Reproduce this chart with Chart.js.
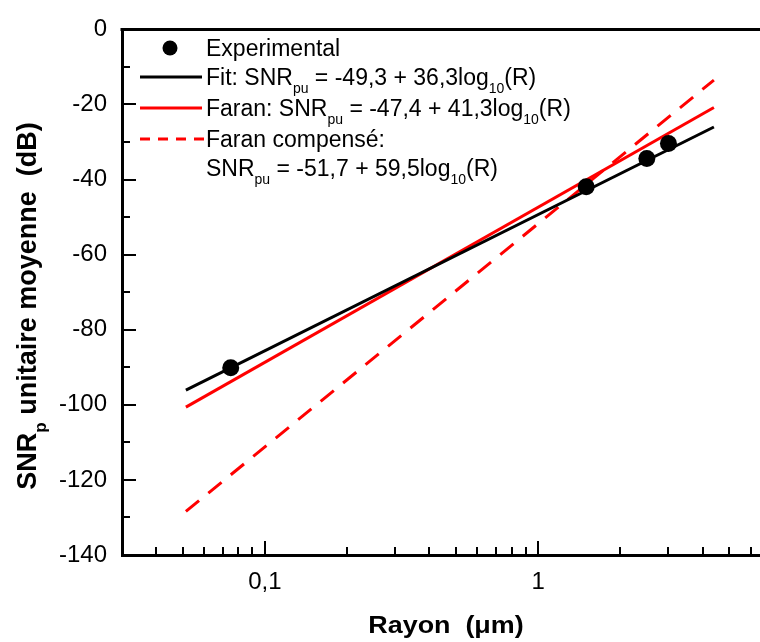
<!DOCTYPE html>
<html>
<head>
<meta charset="utf-8">
<script src="https://cdn.jsdelivr.net/npm/chart.js@4.4.1/dist/chart.umd.min.js"></script>
<style>
	body { margin: 0; background: #fff; }
	#cadre { width: 760px; height: 642px; overflow: hidden; position: relative; }
	#canvasSnr { display: block; }
</style>
</head>
<body>
<div id="cadre"><canvas id="canvasSnr" width="800" height="642"></canvas></div>
<script>

// mesures experimentales
const rayonExp = [0.075, 1.5, 2.5, 3.0];
const snrExp = [-90.1, -41.9, -34.4, -30.4];

// extremites des droites (axe log)
const rayonDroite = [0.0514, 4.4];
const snrFit = [-96.1, -26.0];
const snrFaran = [-100.6, -20.8];
const snrFaranComp = [-128.4, -13.5];

// graduations
const xTicksMaj = [0.1, 1];
const xTicksLbl = ['0,1', '1'];
const xTicksMin = [0.03, 0.04, 0.05, 0.06, 0.07, 0.08, 0.09, 0.2, 0.3, 0.4, 0.5, 0.6, 0.7, 0.8, 0.9, 2, 3, 4, 5, 6, 7];
const yTicksMaj = [-140, -120, -100, -80, -60, -40, -20, 0];
const yTicksMin = [-130, -110, -90, -70, -50, -30, -10];

const police = "'Liberation Sans', Arial, sans-serif";

function pts(xs, ys) {
	return xs.map(function (x, i) { return { x: x, y: ys[i] }; });
}

// texte avec indices (SNR_pu, log_10 ...), etire = echelle horizontale
function texteRiche(ctx, parts, x, y, taille, gras, centre, etire) {
	var f = function (s) { return (gras ? 'bold ' : '') + s + 'px ' + police; };
	var larg = 0;
	etire = etire || 1;
	parts.forEach(function (p) {
		ctx.font = f(p[1] ? Math.round(taille * 0.62) : taille);
		larg += ctx.measureText(p[0]).width;
	});
	ctx.save();
	ctx.translate(x, y);
	ctx.scale(etire, 1);
	var cx = centre ? -larg / 2 : 0;
	parts.forEach(function (p) {
		ctx.font = f(p[1] ? Math.round(taille * 0.62) : taille);
		ctx.fillText(p[0], cx, p[1] ? taille * 0.36 : 0);
		cx += ctx.measureText(p[0]).width;
	});
	ctx.restore();
}

const axes_cadre = {
	id: 'axes_cadre',
	afterDraw(chart) {
		const { ctx, chartArea: { left, top, right, bottom }, scales: { x, y } } = chart;
		ctx.save();
		ctx.strokeStyle = '#000';
		ctx.lineWidth = 3;
		ctx.beginPath();
		ctx.moveTo(left - 1.5, top);
		ctx.lineTo(right, top);
		ctx.lineTo(right, bottom);
		ctx.stroke();

		ctx.lineWidth = 2;
		ctx.beginPath();
		xTicksMaj.forEach(function (v) {
			var px = Math.round(x.getPixelForValue(v));
			ctx.moveTo(px, bottom); ctx.lineTo(px, bottom - 14);
		});
		xTicksMin.forEach(function (v) {
			var px = Math.round(x.getPixelForValue(v));
			ctx.moveTo(px, bottom); ctx.lineTo(px, bottom - 8);
		});
		yTicksMaj.forEach(function (v) {
			var py = Math.round(y.getPixelForValue(v));
			ctx.moveTo(left, py); ctx.lineTo(left + 14, py);
		});
		yTicksMin.forEach(function (v) {
			var py = Math.round(y.getPixelForValue(v));
			ctx.moveTo(left, py); ctx.lineTo(left + 8, py);
		});
		ctx.stroke();

		// titres des axes
		ctx.fillStyle = '#000';
		ctx.textBaseline = 'alphabetic';
		texteRiche(ctx, [['Rayon  (\u03bcm)', false]], 446, 633, 24, true, true, 1.12);

		ctx.translate(36, 306);
		ctx.rotate(-Math.PI / 2);
		texteRiche(ctx, [['SNR', false], ['p', true], [' unitaire moyenne  (dB)', false]], 0, 0, 27, true, true);
		ctx.restore();
	}
};

const legende = {
	id: 'legende',
	afterDraw(chart) {
		const ctx = chart.ctx;
		const tx = 206, t = 23;
		ctx.save();
		ctx.fillStyle = '#000';
		ctx.textBaseline = 'alphabetic';

		ctx.beginPath();
		ctx.arc(170, 48, 7.5, 0, Math.PI * 2);
		ctx.fill();
		texteRiche(ctx, [['Experimental', false]], tx, 56, t, false, false);

		ctx.lineWidth = 3;
		ctx.strokeStyle = '#000';
		ctx.beginPath(); ctx.moveTo(140, 77); ctx.lineTo(202, 77); ctx.stroke();
		texteRiche(ctx, [['Fit: SNR', false], ['pu', true], [' = -49,3 + 36,3log', false], ['10', true], ['(R)', false]], tx, 85, t, false, false);

		ctx.strokeStyle = '#ff0000';
		ctx.beginPath(); ctx.moveTo(140, 108); ctx.lineTo(202, 108); ctx.stroke();
		texteRiche(ctx, [['Faran: SNR', false], ['pu', true], [' = -47,4 + 41,3log', false], ['10', true], ['(R)', false]], tx, 116, t, false, false);

		ctx.setLineDash([10, 8]);
		ctx.beginPath(); ctx.moveTo(140, 139); ctx.lineTo(204, 139); ctx.stroke();
		ctx.setLineDash([]);
		texteRiche(ctx, [['Faran compens\u00e9:', false]], tx, 147, t, false, false);
		texteRiche(ctx, [['SNR', false], ['pu', true], [' = -51,7 + 59,5log', false], ['10', true], ['(R)', false]], tx, 176, t, false, false);
		ctx.restore();
	}
};

var graf_snr = null;

function GrafSnr() {
	if (graf_snr != null) { graf_snr.destroy(); }

	var chartData = {
		datasets: [{
			label: 'Experimental',
			data: pts(rayonExp, snrExp),
			showLine: false,
			pointRadius: 8.5,
			backgroundColor: '#000',
			borderColor: '#000',
			borderWidth: 0,
			order: 0
		},
		{
			label: 'Fit',
			data: pts(rayonDroite, snrFit),
			showLine: true,
			pointRadius: 0,
			borderColor: '#000',
			borderWidth: 3,
			order: 1
		},
		{
			label: 'Faran',
			data: pts(rayonDroite, snrFaran),
			showLine: true,
			pointRadius: 0,
			borderColor: '#ff0000',
			borderWidth: 3,
			order: 2
		},
		{
			label: 'Faran compensé',
			data: pts(rayonDroite, snrFaranComp),
			showLine: true,
			pointRadius: 0,
			borderColor: '#ff0000',
			borderWidth: 3,
			borderDash: [17, 12],
			order: 3
		}]
	};

	var config = {
		type: 'scatter',
		data: chartData,
		options: {
			responsive: false,
			animation: false,
			layout: {
				padding: { left: 0, top: 26, right: 31, bottom: 0 }
			},
			plugins: {
				legend: { display: false },
				tooltip: { enabled: false },
				title: { display: false }
			},
			scales: {
				x: {
					type: 'logarithmic',
					min: 0.03,
					max: 7,
					afterBuildTicks: function (scale) {
						scale.ticks = xTicksMaj.map(function (v) { return { value: v }; });
					},
					afterFit: function (scale) { scale.height = 87; },
					ticks: {
						autoSkip: false,
						maxRotation: 0,
						padding: 13,
						color: '#000',
						font: { family: police, size: 24 },
						callback: function (val) {
							var i = xTicksMaj.indexOf(val);
							return i >= 0 ? xTicksLbl[i] : '';
						}
					},
					grid: { display: false, drawTicks: false },
					border: { display: true, width: 3, color: '#000' }
				},
				y: {
					min: -140,
					max: 0,
					afterBuildTicks: function (scale) {
						scale.ticks = yTicksMaj.map(function (v) { return { value: v }; });
					},
					afterFit: function (scale) { scale.width = 122; },
					ticks: {
						padding: 15,
						color: '#000',
						font: { family: police, size: 24 },
						callback: function (val) { return String(val); }
					},
					grid: { display: false, drawTicks: false },
					border: { display: true, width: 3, color: '#000' }
				}
			}
		},
		plugins: [axes_cadre, legende]
	};

	var ctx = document.getElementById('canvasSnr').getContext('2d');
	graf_snr = new Chart(ctx, config);
}

GrafSnr();
</script>
</body>
</html>
